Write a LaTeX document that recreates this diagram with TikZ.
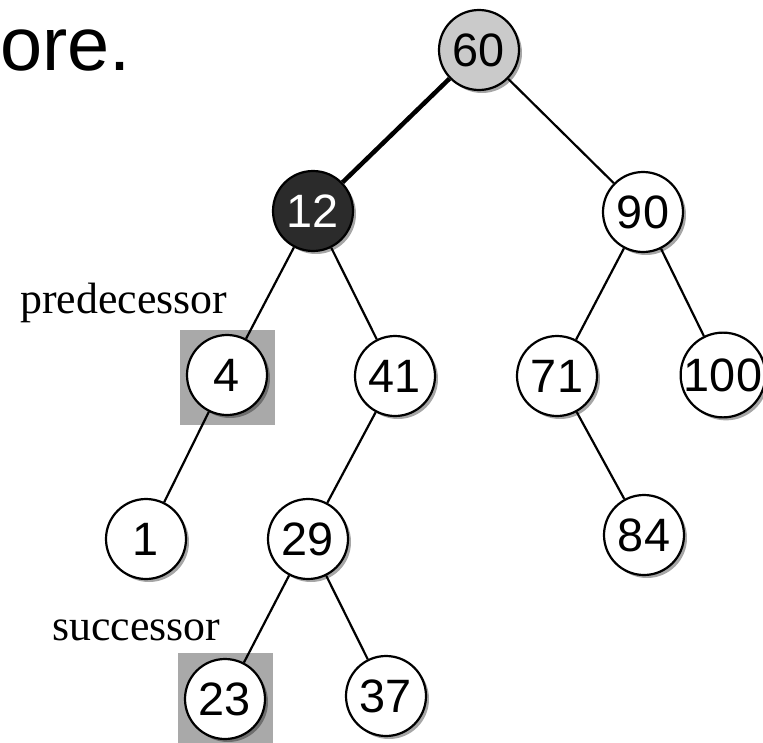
\documentclass[tikz,border=0pt]{standalone}
\usepackage{fontspec}
\setmainfont{Liberation Serif}
\newfontfamily\arialf{Liberation Sans}
\usetikzlibrary{shadows}
\definecolor{hlgray}{HTML}{A9A9A9}
\definecolor{rootgray}{HTML}{CACACA}
\definecolor{darknode}{HTML}{2B2B2B}
\begin{document}
\begin{tikzpicture}[x=1bp,y=-1bp,
  tnode/.style={circle,draw=black,line width=2.2bp,fill=white,minimum size=80bp,inner sep=0pt,
    font=\arialf\fontsize{47}{47}\selectfont,
    drop shadow={shadow xshift=3bp,shadow yshift=-3bp,opacity=0.35,fill=black}},
  hlbox/.style={rectangle,fill=hlgray,draw=none,minimum width=95bp,minimum height=95bp,inner sep=0pt},
  edge/.style={draw=black,line width=2.2bp},
  thickedge/.style={draw=black,line width=4.5bp},
  lbl/.style={font=\fontsize{44}{44}\selectfont,inner sep=0pt}]
\useasboundingbox (0,0) rectangle (763,743);
% highlight squares
\node[hlbox] (sq4) at (227.5,377.5) {};
\node[hlbox,minimum height=100bp] (sq23) at (225.5,703) {};
% title fragment
\node[anchor=base west,inner sep=0pt,font=\arialf\fontsize{76}{76}\selectfont] (ttl) at (0,71) {ore.};
% labels
\node[lbl,anchor=base west] (pred) at (20,313) {predecessor};
\node[lbl,anchor=base west] (succ) at (52,640) {successor};
% tree nodes
\node[tnode,fill=rootgray] (n60) at (479,50) {60};
\node[tnode,fill=darknode,text=white] (n12) at (313,211) {12};
\node[tnode] (n90) at (643,212) {90};
\node[tnode] (n4) at (227,375) {4};
\node[tnode] (n41) at (395,376) {41};
\node[tnode] (n71) at (557,376) {71};
\node[tnode] (n100) at (723,375) {100};
\node[tnode] (n1) at (146,539) {1};
\node[tnode] (n29) at (308,539) {29};
\node[tnode] (n84) at (644,535) {84};
\node[tnode] (n23) at (225,699) {23};
\node[tnode] (n37) at (386,696) {37};
% edges
\draw[thickedge] (n60) -- (n12);
\draw[edge] (n60) -- (n90);
\draw[edge] (n12) -- (n4);
\draw[edge] (n12) -- (n41);
\draw[edge] (n90) -- (n71);
\draw[edge] (n90) -- (n100);
\draw[edge] (n4) -- (n1);
\draw[edge] (n41) -- (n29);
\draw[edge] (n71) -- (n84);
\draw[edge] (n29) -- (n23);
\draw[edge] (n29) -- (n37);
\end{tikzpicture}
\end{document}
